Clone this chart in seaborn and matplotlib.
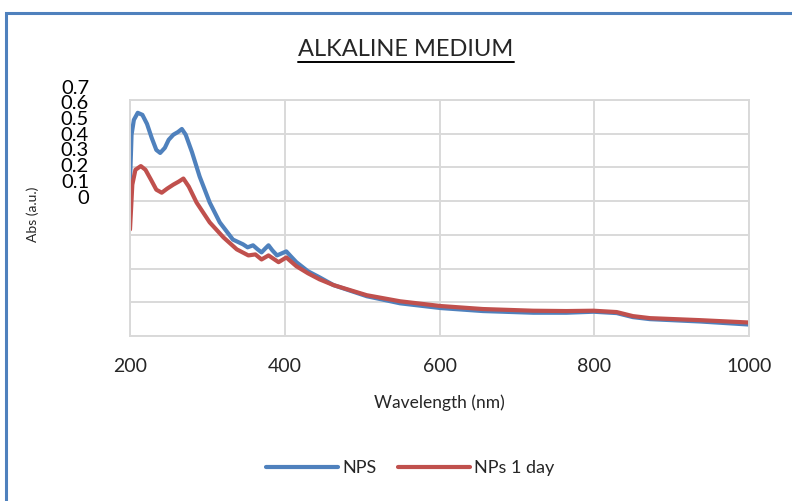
import matplotlib
matplotlib.use("Agg")
import matplotlib.pyplot as plt
import seaborn as sns
import pandas as pd
from matplotlib.patches import Rectangle
from matplotlib.lines import Line2D

# ---- data ----
wl_nps = [200, 202, 205, 210, 216, 222, 228, 234, 239, 245, 250, 256, 262, 267, 272,
          280, 290, 303, 316, 333, 346, 352, 359, 365, 370, 375, 379, 384, 390, 396,
          402, 408, 415, 430, 445, 463, 506, 549, 601, 656, 721, 764, 799, 829, 850,
          872, 937, 1000]
abs_nps = [0.455, 0.597, 0.641, 0.662, 0.656, 0.629, 0.588, 0.552, 0.543, 0.558, 0.582,
           0.597, 0.605, 0.614, 0.597, 0.546, 0.473, 0.396, 0.337, 0.286, 0.272, 0.263,
           0.269, 0.257, 0.248, 0.260, 0.269, 0.254, 0.239, 0.245, 0.251, 0.236, 0.219,
           0.192, 0.174, 0.151, 0.118, 0.097, 0.083, 0.074, 0.069, 0.069, 0.072, 0.068,
           0.056, 0.050, 0.043, 0.034]

wl_day = [200, 203, 207, 214, 220, 227, 234, 241, 248, 256, 263, 269, 276, 286, 303,
          321, 338, 353, 362, 370, 379, 392, 402, 415, 430, 445, 463, 506, 549, 601,
          656, 721, 764, 799, 829, 850, 872, 937, 1000]
abs_day = [0.316, 0.449, 0.493, 0.504, 0.493, 0.464, 0.434, 0.425, 0.437, 0.449, 0.458,
           0.467, 0.443, 0.396, 0.337, 0.292, 0.257, 0.239, 0.242, 0.227, 0.239, 0.219,
           0.233, 0.207, 0.186, 0.168, 0.151, 0.121, 0.103, 0.089, 0.080, 0.075, 0.074,
           0.075, 0.071, 0.059, 0.053, 0.047, 0.040]

series_names = ["NPS", "NPs 1 day"]
x_ticks = [200, 400, 600, 800, 1000]
y_tick_labels = ["0", "0.1", "0.2", "0.3", "0.4", "0.5", "0.6", "0.7"]
title = "ALKALINE MEDIUM"

df = pd.concat([
    pd.DataFrame({"wl": wl_nps, "abs": abs_nps, "series": series_names[0]}),
    pd.DataFrame({"wl": wl_day, "abs": abs_day, "series": series_names[1]}),
])

sns.set_theme(style="white")
plt.rcParams["font.family"] = ["Lato", "DejaVu Sans"]

W, H = 792, 501
fig = plt.figure(figsize=(W / 100, H / 100), dpi=100)
ax = fig.add_axes([130 / W, 1 - 336 / H, (749 - 130) / W, (336 - 100) / H])

palette = {series_names[0]: "#4f81bd", series_names[1]: "#c0504d"}
sns.lineplot(data=df, x="wl", y="abs", hue="series", palette=palette, ax=ax,
             linewidth=3.0, legend=True, sort=False,
             solid_joinstyle="round", solid_capstyle="round")

ax.set_xlim(200, 1000)
ax.set_ylim(0, 0.7)
ax.set_xticks(x_ticks)
ax.set_xticklabels([str(t) for t in x_ticks], fontsize=14)
ax.set_yticks([i * 0.1 for i in range(8)])
ax.set_yticklabels([])
ax.tick_params(axis="x", length=0, pad=16)
ax.tick_params(axis="y", length=0)
ax.grid(True, color="#d9d9d9", linewidth=1.4)
for s in ax.spines.values():
    s.set_color("#d9d9d9")
    s.set_linewidth(1.4)
ax.set_axisbelow(True)
ax.set_xlabel("Wavelength (nm)", fontsize=12.5, labelpad=14)
ax.set_ylabel("")

# squeezed y tick labels as in the reference
for i, lab in enumerate(y_tick_labels):
    fig.text(89 / W, 1 - (198 - 15.7 * i) / H, lab, ha="right", va="center",
             fontsize=14.5, color="black")

fig.text(33 / W, 1 - 214 / H, "Abs (a.u.)", rotation=90, ha="center", va="center",
         fontsize=10)

# title with underline
t = fig.text(406 / W, 1 - 50 / H, title, ha="center", va="center", fontsize=17)
fig.canvas.draw()
bb = t.get_window_extent()
y_ul = (bb.y0 - 1) / H
fig.add_artist(Line2D([bb.x0 / W, bb.x1 / W], [y_ul, y_ul], color="black", linewidth=1.4))

# legend
h, l = ax.get_legend_handles_labels()
ax.legend(h, l, loc="center", bbox_to_anchor=(410 / W, 1 - 468 / H),
          bbox_transform=fig.transFigure, ncol=2, frameon=False, fontsize=13,
          handlelength=4.0, columnspacing=1.2, handletextpad=0.2)

# outer frame
fig.add_artist(Rectangle((6 / W, -0.2), 1.5, 1 - 13 / H + 0.2,
                         transform=fig.transFigure, fill=False,
                         edgecolor="#4f81bd", linewidth=2.2))

fig.savefig("out.png", dpi=100)
